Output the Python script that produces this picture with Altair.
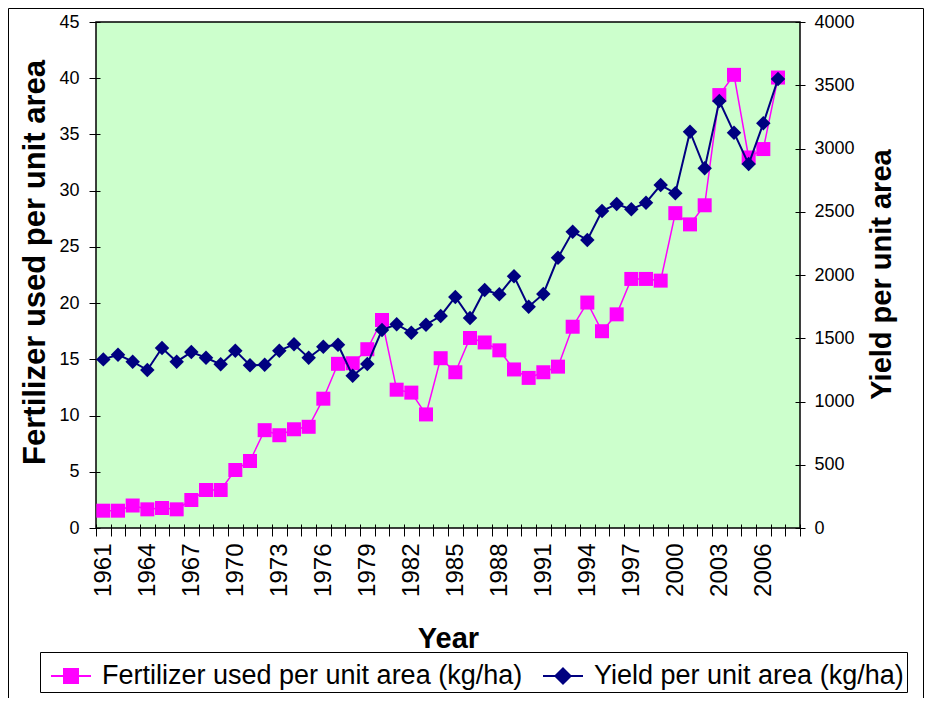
import altair as alt
import pandas as pd

years = list(range(1961, 2008))
fertilizer = [1.54, 1.54, 2.0, 1.66, 1.78, 1.66, 2.49, 3.38, 3.38, 5.16, 5.96, 8.7, 8.25, 8.78, 9.0, 11.5, 14.6,
              14.65, 15.9, 18.5, 12.3, 12.04, 10.1, 15.1, 13.85, 16.9, 16.5, 15.8, 14.1, 13.35, 13.85, 14.35, 17.9,
              20.05, 17.5, 19.0, 22.15, 22.15, 22.0, 28.0, 27.0, 28.7, 38.5, 40.3, 32.95, 33.7, 40.06]
yields = [1333, 1370, 1315, 1249, 1423, 1315, 1391, 1346, 1294, 1402, 1286, 1291, 1402, 1452, 1346, 1433, 1449,
          1204, 1296, 1565, 1610, 1544, 1607, 1676, 1826, 1660, 1881, 1847, 1990, 1749, 1850,
          2136, 2342, 2277, 2506, 2561, 2519, 2572, 2711, 2646,
          3133, 2843, 3375, 3125, 2877, 3199, 3549]
series_names = ["Fertilizer used per unit area (kg/ha)", "Yield per unit area (kg/ha)"]
series_colors = ["#FF00FF", "#000080"]
left_ticks = list(range(0, 50, 5))
right_ticks = list(range(0, 4500, 500))
label_years = list(range(1961, 2007, 3))
boundaries = [1960.5 + i for i in range(49)]

FONT = "Liberation Sans"
W, H = 704, 506

df = pd.DataFrame({"Year": years, "Fert": fertilizer, "Yield": yields})
base = alt.Chart(df)

xscale = alt.Scale(domain=[1960.5, 2008.5], nice=False, zero=False)

x_ticks = alt.X("Year:Q", scale=xscale,
                axis=alt.Axis(orient="bottom", values=boundaries, labels=False, ticks=True,
                              tickSize=12, offset=-4, domain=False, grid=False, title=None,
                              tickColor="black", tickWidth=1))
x_labels = alt.X("Year:Q", scale=xscale,
                 axis=alt.Axis(orient="bottom", values=label_years, ticks=False, tickSize=0,
                               labelAngle=270, labelFontSize=24, labelPadding=15, labelFlush=False,
                               labelOverlap=False, domain=False, grid=False, format="d",
                               title="Year", titleFontSize=29, titleFontWeight="bold",
                               titleY=119, titleBaseline="alphabetic"))

y_left = alt.Y("Fert:Q", scale=alt.Scale(domain=[0, 45], nice=False),
               axis=alt.Axis(orient="left", values=left_ticks, tickSize=11, offset=-4, domain=False,
                             grid=False, labelFontSize=18, labelPadding=10, labelFlush=False,
                             title="Fertilizer used per unit area", titleFontSize=31,
                             titleFontWeight="bold", titleAngle=270, titleX=-65, titleY=240,
                             titleBaseline="middle"))
y_right = alt.Y("Yield:Q", scale=alt.Scale(domain=[0, 4000], nice=False),
                axis=alt.Axis(orient="right", values=right_ticks, tickSize=10, offset=-5, domain=False,
                              grid=False, labelFontSize=18, labelPadding=9, labelFlush=False, format="d",
                              title="Yield per unit area", titleFontSize=29, titleFontWeight="bold",
                              titleAngle=270, titleX=86, titleY=252, titleBaseline="middle"))

fert = alt.layer(
    base.mark_line(color=series_colors[0], strokeWidth=1.5).encode(x=x_ticks, y=y_left),
    base.mark_point(shape="square", filled=True, size=196, color=series_colors[0], opacity=1,
                    strokeWidth=0).encode(x=x_ticks, y=y_left),
)
yld = alt.layer(
    base.mark_line(color=series_colors[1], strokeWidth=2).encode(x=x_labels, y=y_right),
    base.mark_point(shape="diamond", filled=True, size=210, color=series_colors[1], opacity=1,
                    strokeWidth=0).encode(x=x_labels, y=y_right),
)

leg = alt.Legend(orient="none", legendX=-56, legendY=630, direction="horizontal", title=None,
                 labelFontSize=27, labelFont=FONT, labelColor="black", symbolSize=1600,
                 symbolStrokeWidth=2, padding=3, strokeColor="black", fillColor="white",
                 columnPadding=12, labelOffset=10, labelLimit=800, symbolOpacity=1, symbolOffset=7)
sq_path = "M-1,0H1M-0.35,-0.35H0.35V0.35H-0.35Z"
dm_path = "M-1,0H1M0,-0.38L0.38,0L0,0.38L-0.38,0Z"
legend_layer = alt.Chart(pd.DataFrame({"series": series_names})).transform_filter("false").mark_point(
    opacity=1, strokeWidth=2).encode(
    shape=alt.Shape("series:N", scale=alt.Scale(domain=series_names, range=[sq_path, dm_path]), legend=leg),
    fill=alt.Fill("series:N", scale=alt.Scale(domain=series_names, range=series_colors), legend=leg),
    stroke=alt.Stroke("series:N", scale=alt.Scale(domain=series_names, range=series_colors), legend=leg),
)

frame = alt.Chart(alt.Data(values=[{}])).mark_rect(fill="transparent", stroke="black", strokeWidth=1).encode(
    x=alt.value(-87.5), x2=alt.value(827.5), y=alt.value(-13.5), y2=alt.value(H + 300))

chart = alt.layer(frame, fert, yld, legend_layer).resolve_scale(
    x="independent", y="independent").resolve_axis(x="independent", y="independent").properties(
    width=W, height=H, autosize="none",
    padding={"left": 88, "top": 14, "right": 124, "bottom": 170},
    view=alt.ViewBackground(fill="#CCFFCC", stroke="black", strokeWidth=1.5),
).configure(font=FONT).configure_view(fill="#CCFFCC", stroke="black", strokeWidth=1.5).configure_axis(
    labelColor="black", titleColor="black", tickColor="black", labelFont=FONT, titleFont=FONT)

chart.save("out.html", embed_options={"renderer": "svg", "actions": False})
